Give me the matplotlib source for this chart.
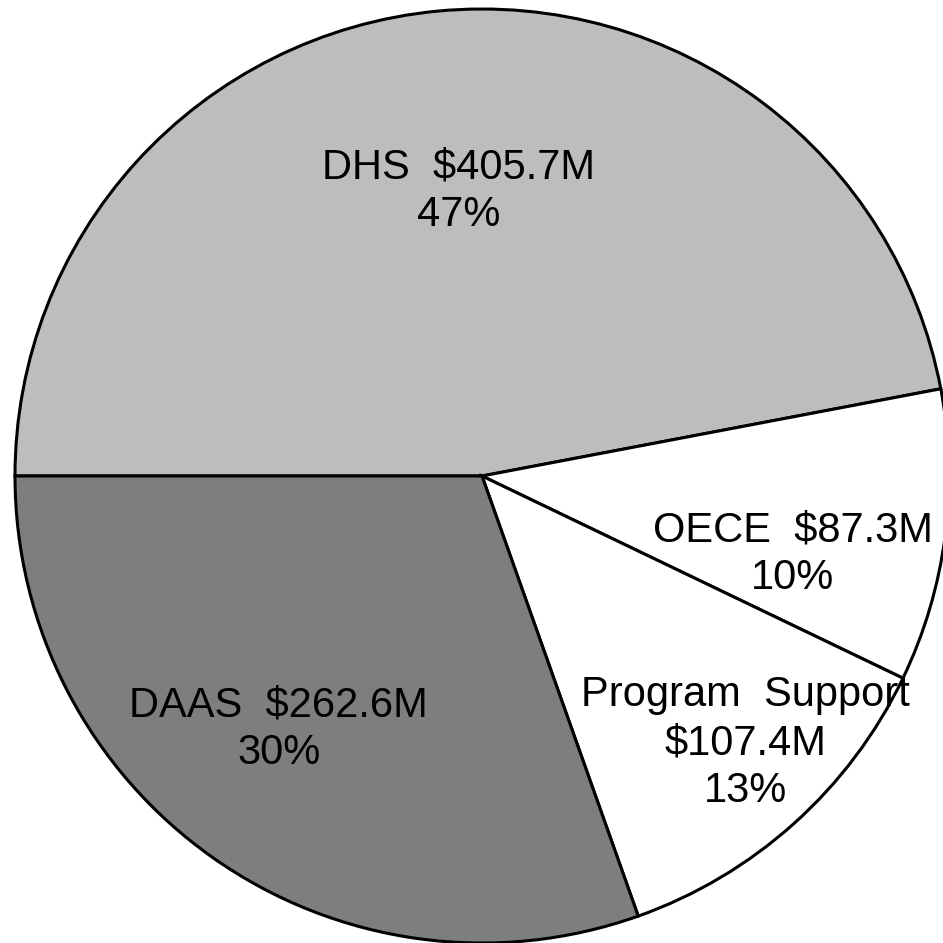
import matplotlib
matplotlib.use("Agg")
import matplotlib.pyplot as plt

# Data
categories = ["DHS", "OECE", "Program Support", "DAAS"]
values = [405.7, 87.3, 107.4, 262.6]
pct_labels = ["47%", "10%", "13%", "30%"]
label_texts = ["DHS  $405.7M\n47%", "OECE  $87.3M\n10%",
               "Program  Support\n$107.4M\n13%", "DAAS  $262.6M\n30%"]

# Style / layout
colors = ["#bdbdbd", "#ffffff", "#ffffff", "#7e7e7e"]
label_xy = [(-0.05, 0.61), (0.665, -0.168), (0.565, -0.572), (-0.435, -0.542)]

plt.rcParams['font.family'] = ['Liberation Sans', 'DejaVu Sans']

fig = plt.figure(figsize=(9.43, 9.43), dpi=100)
ax = fig.add_axes([0, 0, 1, 1])
ax.pie(values, startangle=180, counterclock=False, colors=colors,
       wedgeprops=dict(edgecolor="black", linewidth=2.2), radius=1.0)
for txt, (x, y) in zip(label_texts, label_xy):
    ax.text(x, y, txt, ha="center", va="center", fontsize=30,
            linespacing=1.25, color="black")
ax.set_xlim(-482 / 467, (943 - 482) / 467)
ax.set_ylim(-467 / 467, 476 / 467)
ax.set_aspect("auto")
ax.axis("off")
fig.savefig("out.png", dpi=100)
